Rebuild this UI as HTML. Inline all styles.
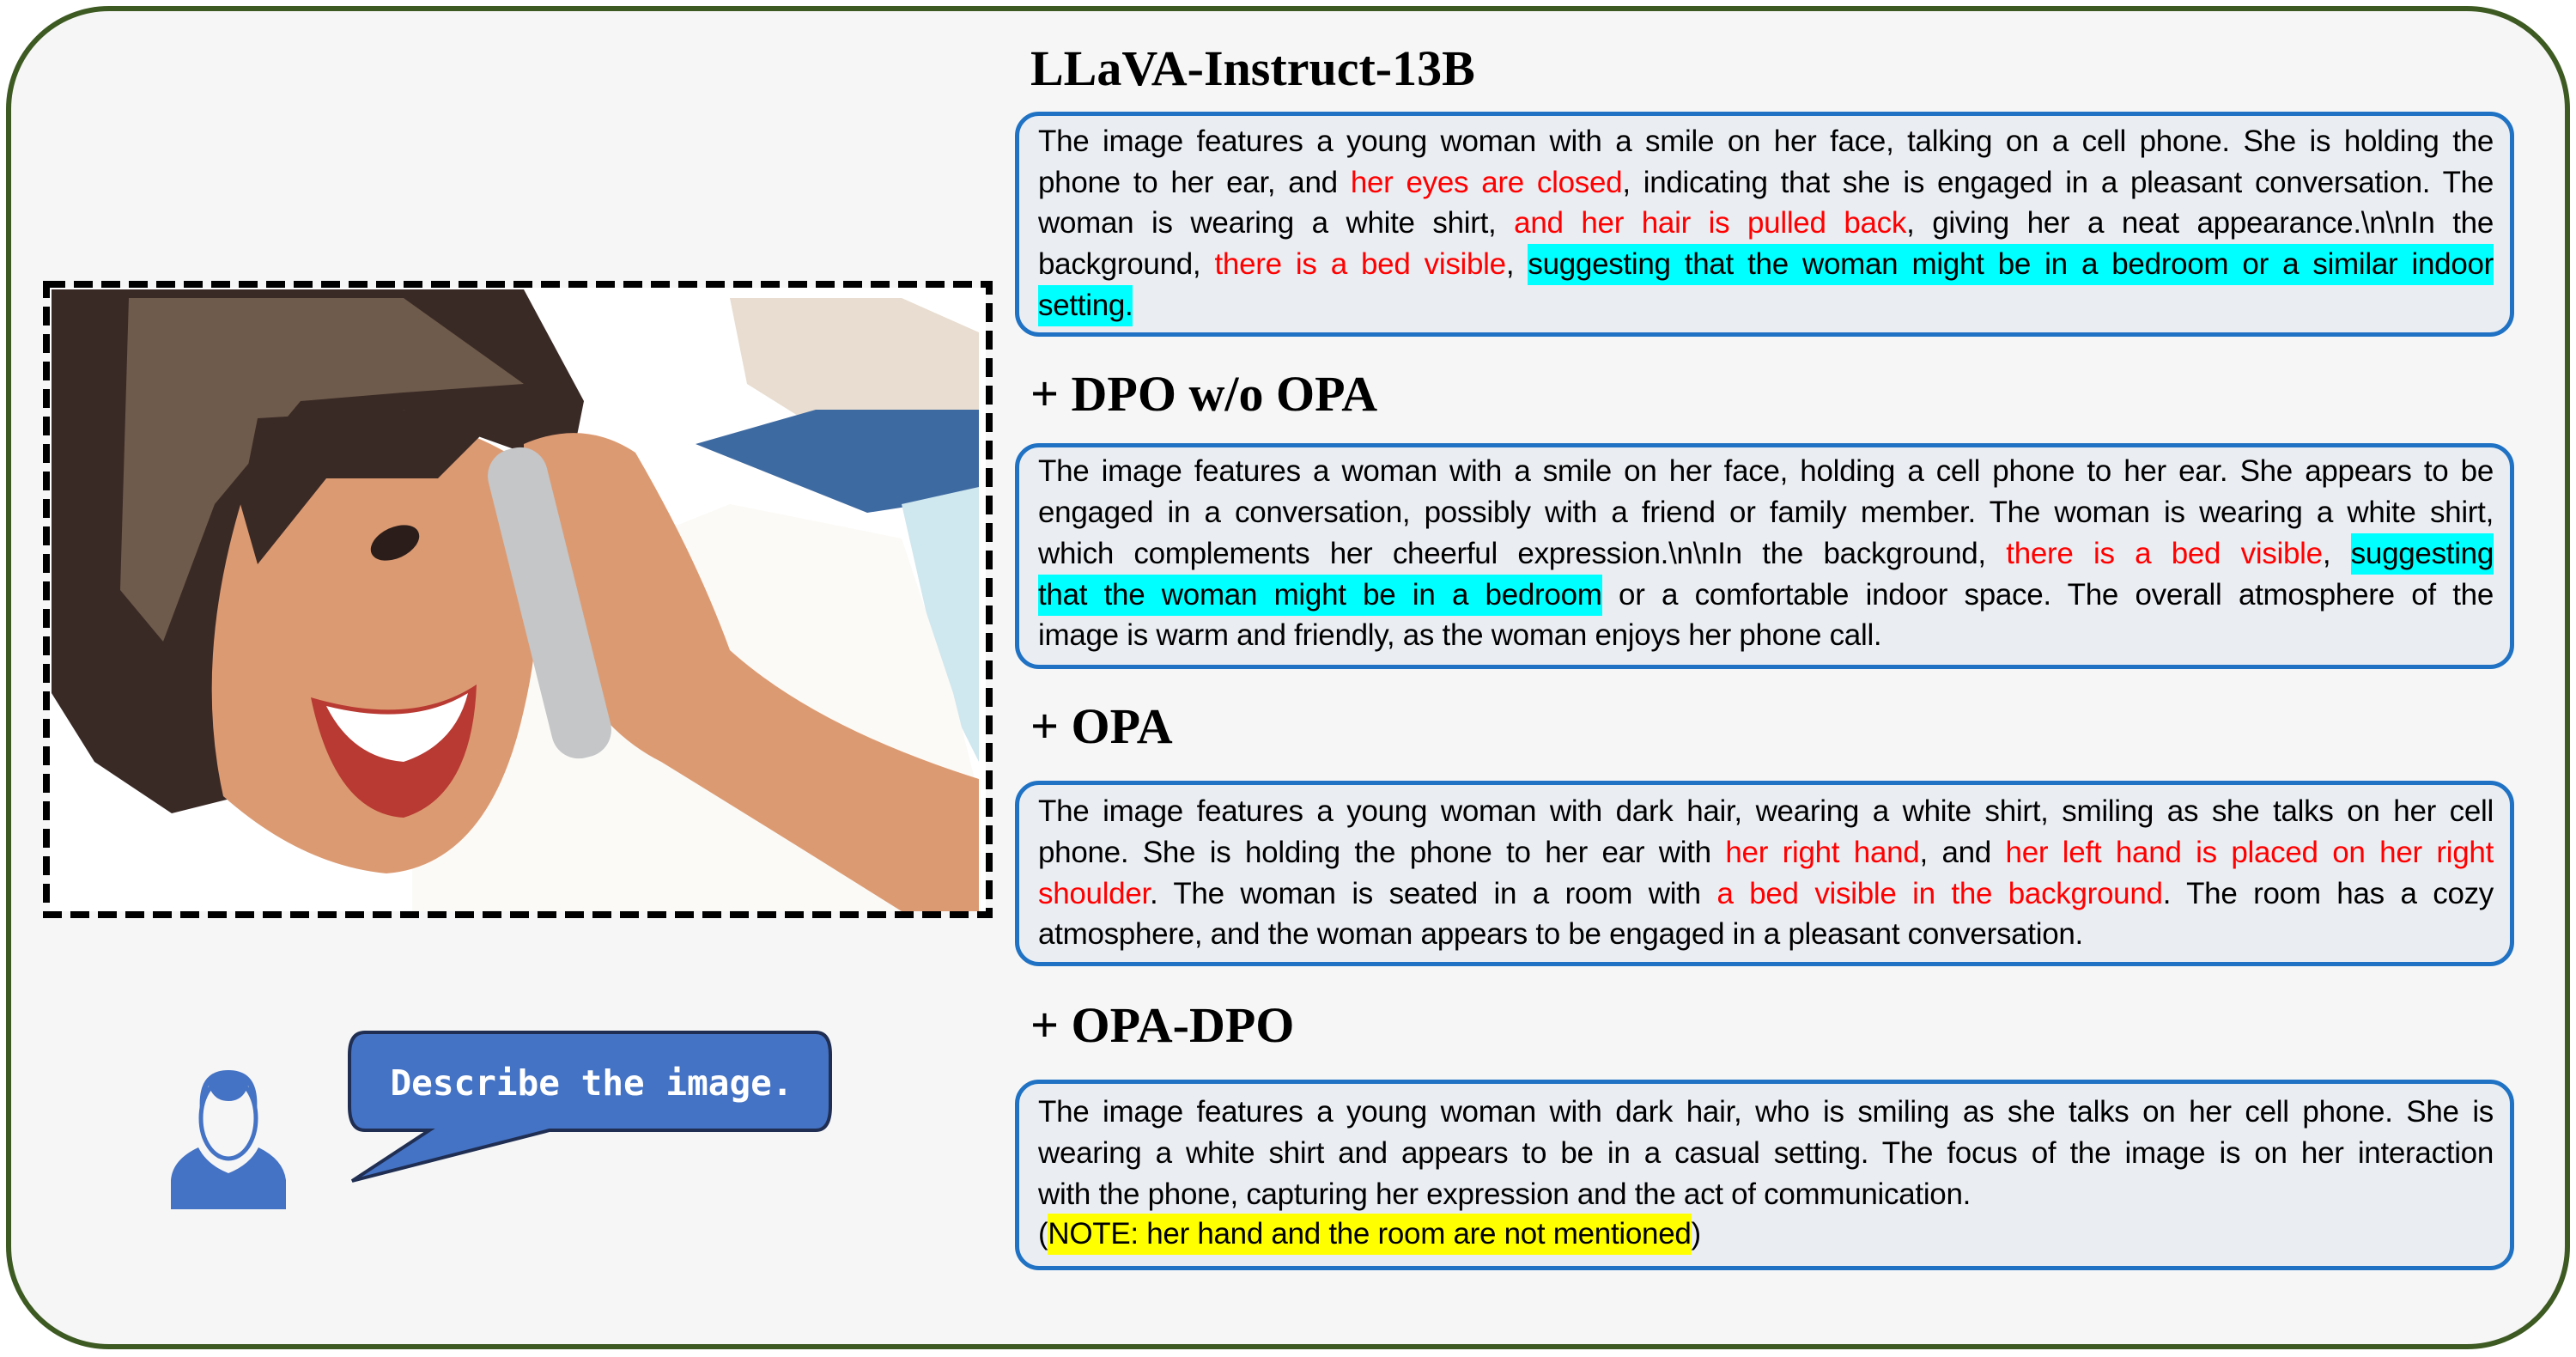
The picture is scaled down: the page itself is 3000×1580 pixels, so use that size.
<!DOCTYPE html>
<html><head><meta charset="utf-8"><style>
*{margin:0;padding:0;box-sizing:border-box}
body{width:3000px;height:1580px;background:#fff;position:relative;overflow:hidden;font-family:"Liberation Sans",sans-serif}
.outer{position:absolute;left:7px;top:7px;width:2986px;height:1564px;border:6px solid #3d5a22;border-radius:120px;background:#f6f6f6}
.h{position:absolute;left:1200px;font-family:"Liberation Serif",serif;font-weight:bold;font-size:58px;line-height:60px;color:#000}
.box{position:absolute;left:1182px;width:1746px;border:5px solid #1f72c4;border-radius:28px;background:#eaedf2}
.l{position:absolute;left:1209px;width:1695px;height:48px;line-height:48px;font-size:35px;letter-spacing:-0.3px;color:#000;text-align:justify;text-align-last:justify;overflow:hidden;white-space:normal}
.l.e{text-align-last:left}
.r{color:#f00}
.c{background:#00ffff;padding:6px 0}
.y{background:#ffff00;padding:6px 0}
</style></head><body>
<div class="outer"></div>

<div class="h" style="top:50px">LLaVA-Instruct-13B</div>
<div class="box" style="top:130px;height:262px"></div>
<div class="l" style="top:141px">The image features a young woman with a smile on her face, talking on a cell phone. She is holding the</div>
<div class="l" style="top:189px">phone to her ear, and <span class="r">her eyes are closed</span>, indicating that she is engaged in a pleasant conversation. The</div>
<div class="l" style="top:236px">woman is wearing a white shirt, <span class="r">and her hair is pulled back</span>, giving her a neat appearance.\n\nIn the</div>
<div class="l" style="top:284px">background, <span class="r">there is a bed visible</span>, <span class="c">suggesting that the woman might be in a bedroom or a similar indoor</span></div>
<div class="l e" style="top:332px"><span class="c">setting.</span></div>

<div class="h" style="top:429px">+ DPO w/o OPA</div>
<div class="box" style="top:516px;height:263px"></div>
<div class="l" style="top:525px">The image features a woman with a smile on her face, holding a cell phone to her ear. She appears to be</div>
<div class="l" style="top:573px">engaged in a conversation, possibly with a friend or family member. The woman is wearing a white shirt,</div>
<div class="l" style="top:621px">which complements her cheerful expression.\n\nIn the background, <span class="r">there is a bed visible</span>, <span class="c">suggesting</span></div>
<div class="l" style="top:669px"><span class="c">that the woman might be in a bedroom</span> or a comfortable indoor space. The overall atmosphere of the</div>
<div class="l e" style="top:716px">image is warm and friendly, as the woman enjoys her phone call.</div>

<div class="h" style="top:816px">+ OPA</div>
<div class="box" style="top:909px;height:216px"></div>
<div class="l" style="top:921px">The image features a young woman with dark hair, wearing a white shirt, smiling as she talks on her cell</div>
<div class="l" style="top:969px">phone. She is holding the phone to her ear with <span class="r">her right hand</span>, and <span class="r">her left hand is placed on her right</span></div>
<div class="l" style="top:1017px"><span class="r">shoulder</span>. The woman is seated in a room with <span class="r">a bed visible in the background</span>. The room has a cozy</div>
<div class="l e" style="top:1064px">atmosphere, and the woman appears to be engaged in a pleasant conversation.</div>

<div class="h" style="top:1164px">+ OPA-DPO</div>
<div class="box" style="top:1257px;height:222px"></div>
<div class="l" style="top:1271px">The image features a young woman with dark hair, who is smiling as she talks on her cell phone. She is</div>
<div class="l" style="top:1319px">wearing a white shirt and appears to be in a casual setting. The focus of the image is on her interaction</div>
<div class="l e" style="top:1367px">with the phone, capturing her expression and the act of communication.</div>
<div class="l e" style="top:1413px">(<span class="y">NOTE: her hand and the room are not mentioned</span>)</div>

<!-- photo -->
<svg style="position:absolute;left:50px;top:327px" width="1106" height="742" viewBox="0 0 1106 742">
<rect x="8" y="8" width="1090" height="726" fill="#fff"/>
<polygon points="800,20 1000,20 1090,60 1090,150 900,170 820,120" fill="#e8ddd0"/>
<polygon points="760,190 900,150 1090,150 1090,250 960,270" fill="#3e6aa2"/>
<polygon points="1000,260 1090,240 1090,560 1050,480" fill="#cfe7ee"/>
<polygon points="430,560 560,420 700,300 800,260 1000,300 1060,480 1090,600 1090,734 430,734" fill="#fbfaf6"/>
<polygon points="10,10 560,10 630,140 620,190 560,200 420,150 300,220 250,380 230,600 150,620 60,560 10,480" fill="#3a2a26"/>
<polygon points="100,20 420,20 560,120 420,130 300,140 200,260 140,420 90,360" fill="#6e5b4c"/>
<path d="M250 200 Q400 120 540 200 Q600 330 560 500 Q520 680 400 690 Q300 680 210 600 Q170 420 250 200 Z" fill="#dc9a72"/>
<polygon points="250,160 420,150 520,170 460,230 330,230 250,330 230,260" fill="#3a2a26"/>
<path d="M312 485 Q430 520 505 470 Q500 600 420 625 Q340 620 312 485 Z" fill="#b83a32"/>
<path d="M330 495 Q430 520 495 480 Q480 540 420 560 Q360 555 330 495 Z" fill="#fff"/>
<ellipse cx="410" cy="305" rx="30" ry="18" fill="#2b1e1a" transform="rotate(-25 410 305)"/>
<path d="M560 190 Q630 160 690 200 Q760 320 800 430 Q900 520 1090 580 L1090 734 L1000 734 Q850 640 720 560 Q640 520 600 420 Q560 300 560 190 Z" fill="#dc9a72"/>
<rect x="555" y="190" width="70" height="370" rx="32" fill="#c4c6c8" transform="rotate(-14 590 375)"/>
<rect x="4" y="4" width="1098" height="734" fill="none" stroke="#000" stroke-width="8" stroke-dasharray="22 10"/>
</svg>

<!-- person icon -->
<svg style="position:absolute;left:199px;top:1246px" width="134" height="162" viewBox="0 0 134 162">
<path d="M0 162 L0 128 Q2 104 32 90 Q42 110 67 120 Q92 110 102 90 Q131 104 134 128 L134 162 Z" fill="#4472c4"/>
<ellipse cx="67" cy="56" rx="32" ry="47" fill="#f6f6f6" stroke="#4472c4" stroke-width="5"/>
<path d="M34 48 Q30 0 67 0 Q104 0 100 48 L97 48 Q95 30 90 18 Q84 36 67 36 Q50 36 44 18 Q39 30 37 48 Z" fill="#4472c4"/>
</svg>

<!-- speech bubble -->
<svg style="position:absolute;left:395px;top:1198px" width="585" height="185" viewBox="0 0 585 185">
<path d="M30 4 L555 4 Q572 4 572 30 L572 90 Q572 118 555 118 L245 118 L15 177 L105 118 L30 118 Q12 118 12 90 L12 30 Q12 4 30 4 Z" fill="#4472c4" stroke="#1f2e52" stroke-width="4"/>
<text x="294" y="77" text-anchor="middle" font-family="DejaVu Sans Mono, monospace" font-weight="bold" font-size="41" fill="#fff">Describe the image.</text>
</svg>
</body></html>
